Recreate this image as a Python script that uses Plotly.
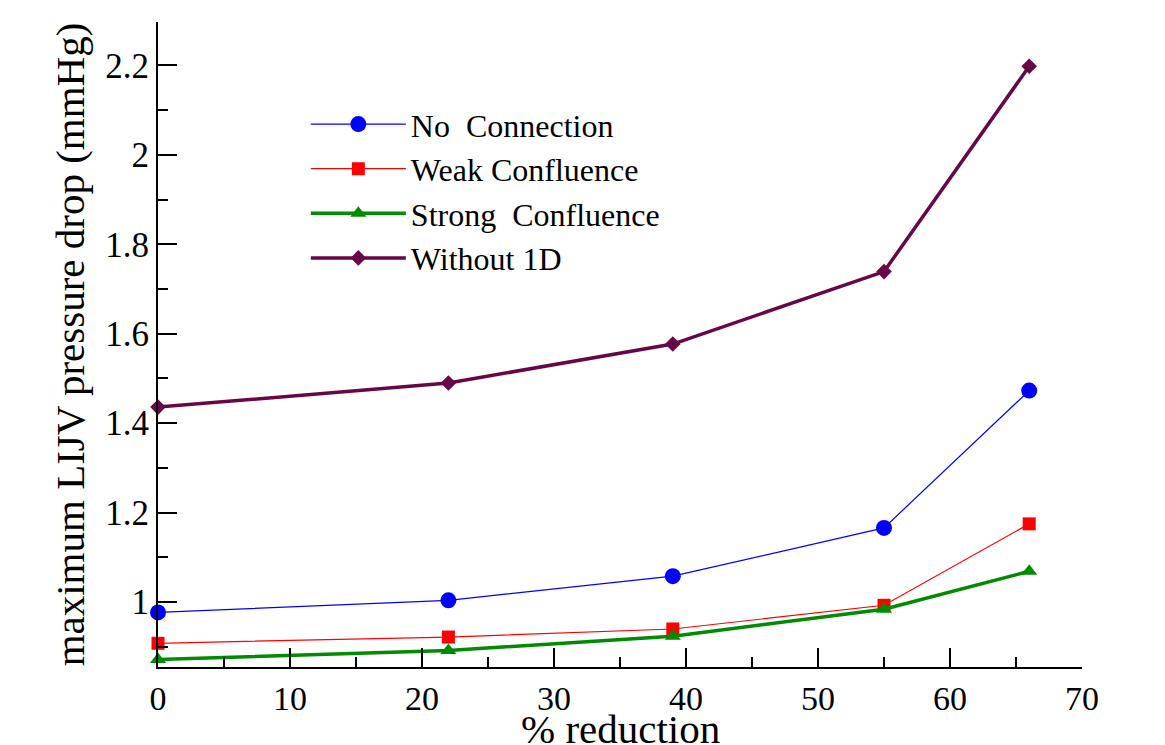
import plotly.graph_objects as go

reduction = [0, 22, 39, 55, 66]
no_connection = [0.977, 1.004, 1.058, 1.166, 1.473]
weak_confluence = [0.908, 0.922, 0.940, 0.993, 1.175]
strong_confluence = [0.872, 0.892, 0.924, 0.984, 1.069]
without_1d = [1.436, 1.490, 1.577, 1.739, 2.198]

series = [
    ("No  Connection", no_connection, "#0000ff", 1.2, "circle", 16),
    ("Weak Confluence", weak_confluence, "#ff0000", 1.2, "square", 13),
    ("Strong  Confluence", strong_confluence, "#008b00", 3.5, "triangle-up", 14),
    ("Without 1D", without_1d, "#670748", 3.5, "diamond", 12),
]

fig = go.Figure()
for name, ys, color, lw, sym, ms in series:
    fig.add_trace(go.Scatter(
        x=reduction, y=ys, name=name, mode="lines+markers",
        line=dict(color=color, width=lw),
        marker=dict(symbol=sym, size=ms, color=color),
        cliponaxis=False,
    ))

font_family = "Liberation Serif, Times New Roman, serif"
fig.update_layout(
    width=1157, height=737,
    margin=dict(l=150, r=83, t=14, b=78, autoexpand=False),
    paper_bgcolor="white", plot_bgcolor="white",
    font=dict(family=font_family, color="black", size=34),
    showlegend=True,
    legend=dict(
        x=0.16, y=0.884, xanchor="left", yanchor="top",
        bgcolor="rgba(0,0,0,0)", font=dict(size=32, family=font_family),
        itemwidth=95, tracegroupgap=0,
    ),
    xaxis=dict(
        range=[0, 70], tickvals=[0, 10, 20, 30, 40, 50, 60, 70],
        showgrid=False, zeroline=False, automargin=False,
        showline=True, linecolor="black", linewidth=2,
        ticks="inside", ticklen=19, tickwidth=2, tickcolor="black",
        minor=dict(dtick=5, ticks="inside", ticklen=10, tickwidth=2, tickcolor="black"),
        tickfont=dict(size=34),
    ),
    yaxis=dict(
        range=[0.855, 2.297], tickvals=[1, 1.2, 1.4, 1.6, 1.8, 2, 2.2],
        showgrid=False, zeroline=False, automargin=False,
        showline=True, linecolor="black", linewidth=2,
        ticks="inside", ticklen=19, tickwidth=2, tickcolor="black",
        minor=dict(dtick=0.1, tick0=0, ticks="inside", ticklen=10, tickwidth=2, tickcolor="black"),
        tickfont=dict(size=35),
        title=dict(text="maximum LIJV pressure drop (mmHg)", font=dict(size=41), standoff=8),
    ),
    annotations=[dict(
        text="% reduction", xref="paper", yref="paper", x=0.5, y=-0.058,
        xanchor="center", yanchor="top", showarrow=False,
        font=dict(size=41, family=font_family, color="black"),
    )],
)

fig.write_html("out.html")
